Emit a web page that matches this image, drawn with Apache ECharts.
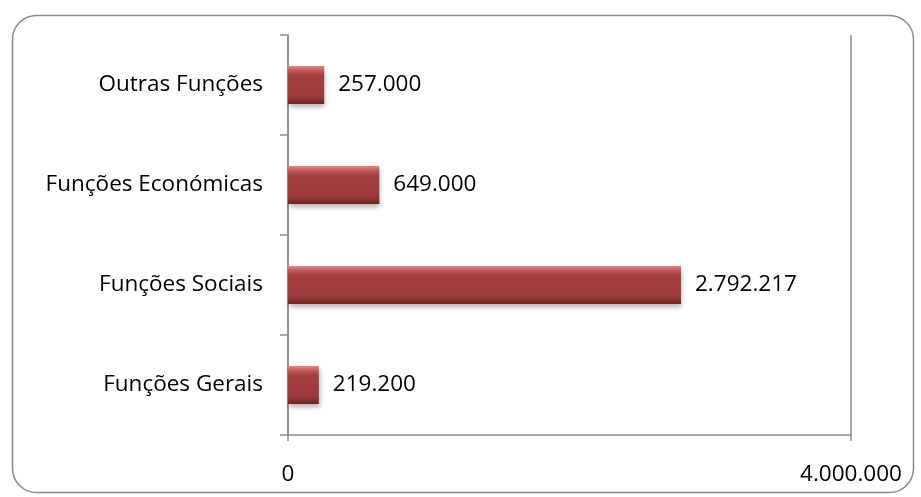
<!DOCTYPE html>
<html><head><meta charset="utf-8">
<script src="https://cdn.jsdelivr.net/npm/echarts@6/dist/echarts.min.js"></script>
<style>html,body{margin:0;padding:0;background:#fff}#c{width:921px;height:497px}</style>
</head><body><div id="c"></div>
<script>
const categories = ['Funções Gerais', 'Funções Sociais', 'Funções Económicas', 'Outras Funções'];
const values = [219200, 2792217, 649000, 257000];
const axisMax = 4000000;

function fmt(v){ return String(Math.round(v)).replace(/\B(?=(\d{3})+(?!\d))/g, '.'); }

const chart = echarts.init(document.getElementById('c'));
const FONT = '"Open Sans", "Noto Sans", sans-serif';
chart.setOption({
  animation: false,
  graphic: [{
    type: 'rect', left: 10, top: 13,
    shape: { width: 901, height: 477, r: 24 },
    style: { fill: 'none', stroke: '#8c8c8c', lineWidth: 1.5 },
    z: -1
  }],
  grid: { left: 288, right: 70, top: 35, bottom: 62 },
  xAxis: {
    type: 'value', min: 0, max: axisMax, interval: axisMax,
    axisLine: { show: true, lineStyle: { color: '#8c8c8c', width: 1.5 } },
    axisTick: { show: true, length: 6, lineStyle: { color: '#8c8c8c', width: 1.5 } },
    axisLabel: { margin: 28, color: '#000', fontSize: 22.5, fontFamily: FONT, formatter: fmt },
    splitLine: { show: true, lineStyle: { color: '#8c8c8c', width: 1.5 } }
  },
  yAxis: {
    type: 'category', data: categories,
    axisLine: { show: true, lineStyle: { color: '#8c8c8c', width: 1.5 } },
    axisTick: { show: true, length: 8, lineStyle: { color: '#8c8c8c', width: 1.5 } },
    axisLabel: { margin: 25, color: '#000', fontSize: 22.5, fontFamily: FONT }
  },
  series: [{
    type: 'bar', data: values, barWidth: 38,
    itemStyle: {
      color: new echarts.graphic.LinearGradient(0, 0, 0, 1, [
        { offset: 0, color: '#e88484' },
        { offset: 0.12, color: '#c05a5a' },
        { offset: 0.25, color: '#a53f3f' },
        { offset: 0.8, color: '#9c3b3b' },
        { offset: 1, color: '#6e2424' }
      ]),
      shadowColor: 'rgba(0,0,0,0.3)', shadowBlur: 5, shadowOffsetY: 3, shadowOffsetX: 1
    },
    label: {
      show: true, position: 'right', distance: 14,
      color: '#000', fontSize: 22.5, fontFamily: FONT,
      formatter: p => fmt(p.value)
    }
  }]
});
</script></body></html>
